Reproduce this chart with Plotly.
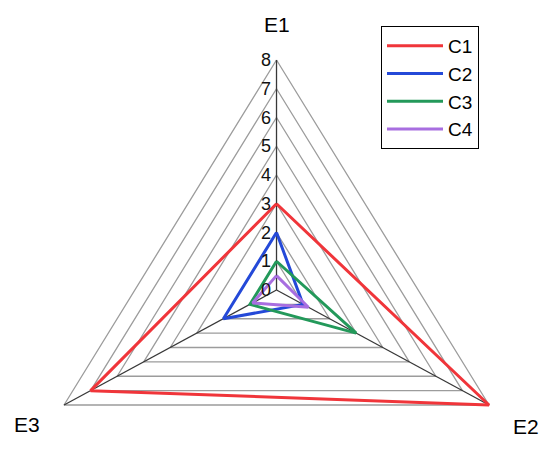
import numpy as np
import plotly.graph_objects as go

axes = ["E1", "E2", "E3"]
series_names = ["C1", "C2", "C3", "C4"]
c1 = [3, 8, 7]
c2 = [2, 1, 2]
c3 = [1, 3, 1]
c4 = [0.5, 1.2, 0.9]
radial_ticks = [0, 1, 2, 3, 4, 5, 6, 7, 8]
r_max = 8

colors = ["#f0353a", "#2449d8", "#23995a", "#a86ee0"]

# radar projection: E1 at the top, then clockwise every 120 degrees
angles = np.deg2rad([0, 120, 240])


def project(vals, close=True):
    v = np.asarray(vals, dtype=float)
    x = v * np.sin(angles)
    y = v * np.cos(angles)
    if close:
        x = np.append(x, x[0])
        y = np.append(y, y[0])
    return list(x), list(y)


fig = go.Figure()

# triangular grid, one ring per tick
gx, gy = [], []
for k in radial_ticks[1:]:
    x, y = project([k] * 3)
    gx += x + [None]
    gy += y + [None]
fig.add_trace(go.Scatter(x=gx, y=gy, mode="lines", line=dict(color="#9c9c9c", width=1.3),
                         showlegend=False, hoverinfo="skip"))

# spokes
sx, sy = [], []
ex, ey = project([r_max] * 3, close=False)
for x, y in zip(ex, ey):
    sx += [0, x, None]
    sy += [0, y, None]
fig.add_trace(go.Scatter(x=sx, y=sy, mode="lines", line=dict(color="#383838", width=1.3),
                         showlegend=False, hoverinfo="skip"))

for name, vals, col in zip(series_names, [c1, c2, c3, c4], colors):
    x, y = project(vals)
    fig.add_trace(go.Scatter(x=x, y=y, mode="lines", name=name,
                             line=dict(color=col, width=3)))

# radial tick labels along E1
for t in radial_ticks:
    fig.add_annotation(x=0, y=t, text=str(t), showarrow=False, xanchor="right",
                       yanchor="middle", xshift=-4, font=dict(size=18, color="#111111"))

# axis names at the outer corners
shifts = [(0, 36), (37, -21), (-37, -19)]
for name, x, y, (dx, dy) in zip(axes, ex, ey, shifts):
    fig.add_annotation(x=x, y=y, text=name, showarrow=False, xshift=dx, yshift=dy,
                       font=dict(size=21, color="black"))

fig.update_layout(
    width=550,
    height=456,
    margin=dict(l=0, r=0, t=0, b=0),
    paper_bgcolor="white",
    plot_bgcolor="white",
    font=dict(family="Liberation Sans, Arial", size=18, color="black"),
    xaxis=dict(range=[-8.755, 9.178], visible=False, fixedrange=True),
    yaxis=dict(range=[-6.052, 9.809], visible=False, fixedrange=True),
    hovermode=False,
    legend=dict(
        x=373 / 550,
        y=1 - 18 / 456,
        xanchor="left",
        yanchor="top",
        bordercolor="black",
        borderwidth=1,
        bgcolor="white",
        font=dict(size=19),
        itemwidth=56,
        tracegroupgap=0,
    ),
)

fig.write_html("out.html")
